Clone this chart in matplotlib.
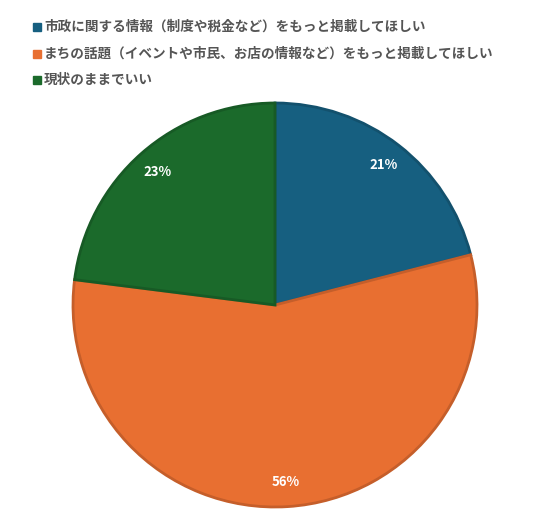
import matplotlib.pyplot as plt
from matplotlib.colors import to_rgb

plt.rcParams['font.family'] = ['Noto Sans CJK JP', 'DejaVu Sans']

labels = [
    "市政に関する情報（制度や税金など）をもっと掲載してほしい",
    "まちの話題（イベントや市民、お店の情報など）をもっと掲載してほしい",
    "現状のままでいい",
]
values = [21, 56, 23]
colors = ["#165f80", "#e86f31", "#1b6a2b"]


def darker(c, f=0.85):
    return tuple(v * f for v in to_rgb(c))


fig = plt.figure(figsize=(5.5, 5.28), dpi=100)
ax = fig.add_axes([0.0, 0.0, 1.0, 1.0])

# pixel-like coords, y measured upward
wedges, texts, autotexts = ax.pie(
    values,
    colors=colors,
    startangle=90,
    counterclock=False,
    center=(275, 528 - 305),
    radius=202,
    autopct="%d%%",
    pctdistance=0.88,
    frame=True,
    wedgeprops=dict(linewidth=2),
    textprops=dict(color="white", fontsize=9.5, fontweight="bold"),
)
for w, c in zip(wedges, colors):
    w.set_edgecolor(darker(c))
ax.set_xlim(0, 550)
ax.set_ylim(0, 528)
ax.set_aspect("equal")
ax.axis("off")

# legend
for i, (lab, c) in enumerate(zip(labels, colors)):
    y = 528 - (27 + i * 26.5)
    ax.add_patch(plt.Rectangle((33, y - 4), 8, 8, color=c))
    ax.text(44, y, lab, fontsize=9.8, color="#555555", fontweight="bold",
            va="center", ha="left")

fig.savefig("out.png", dpi=100)
